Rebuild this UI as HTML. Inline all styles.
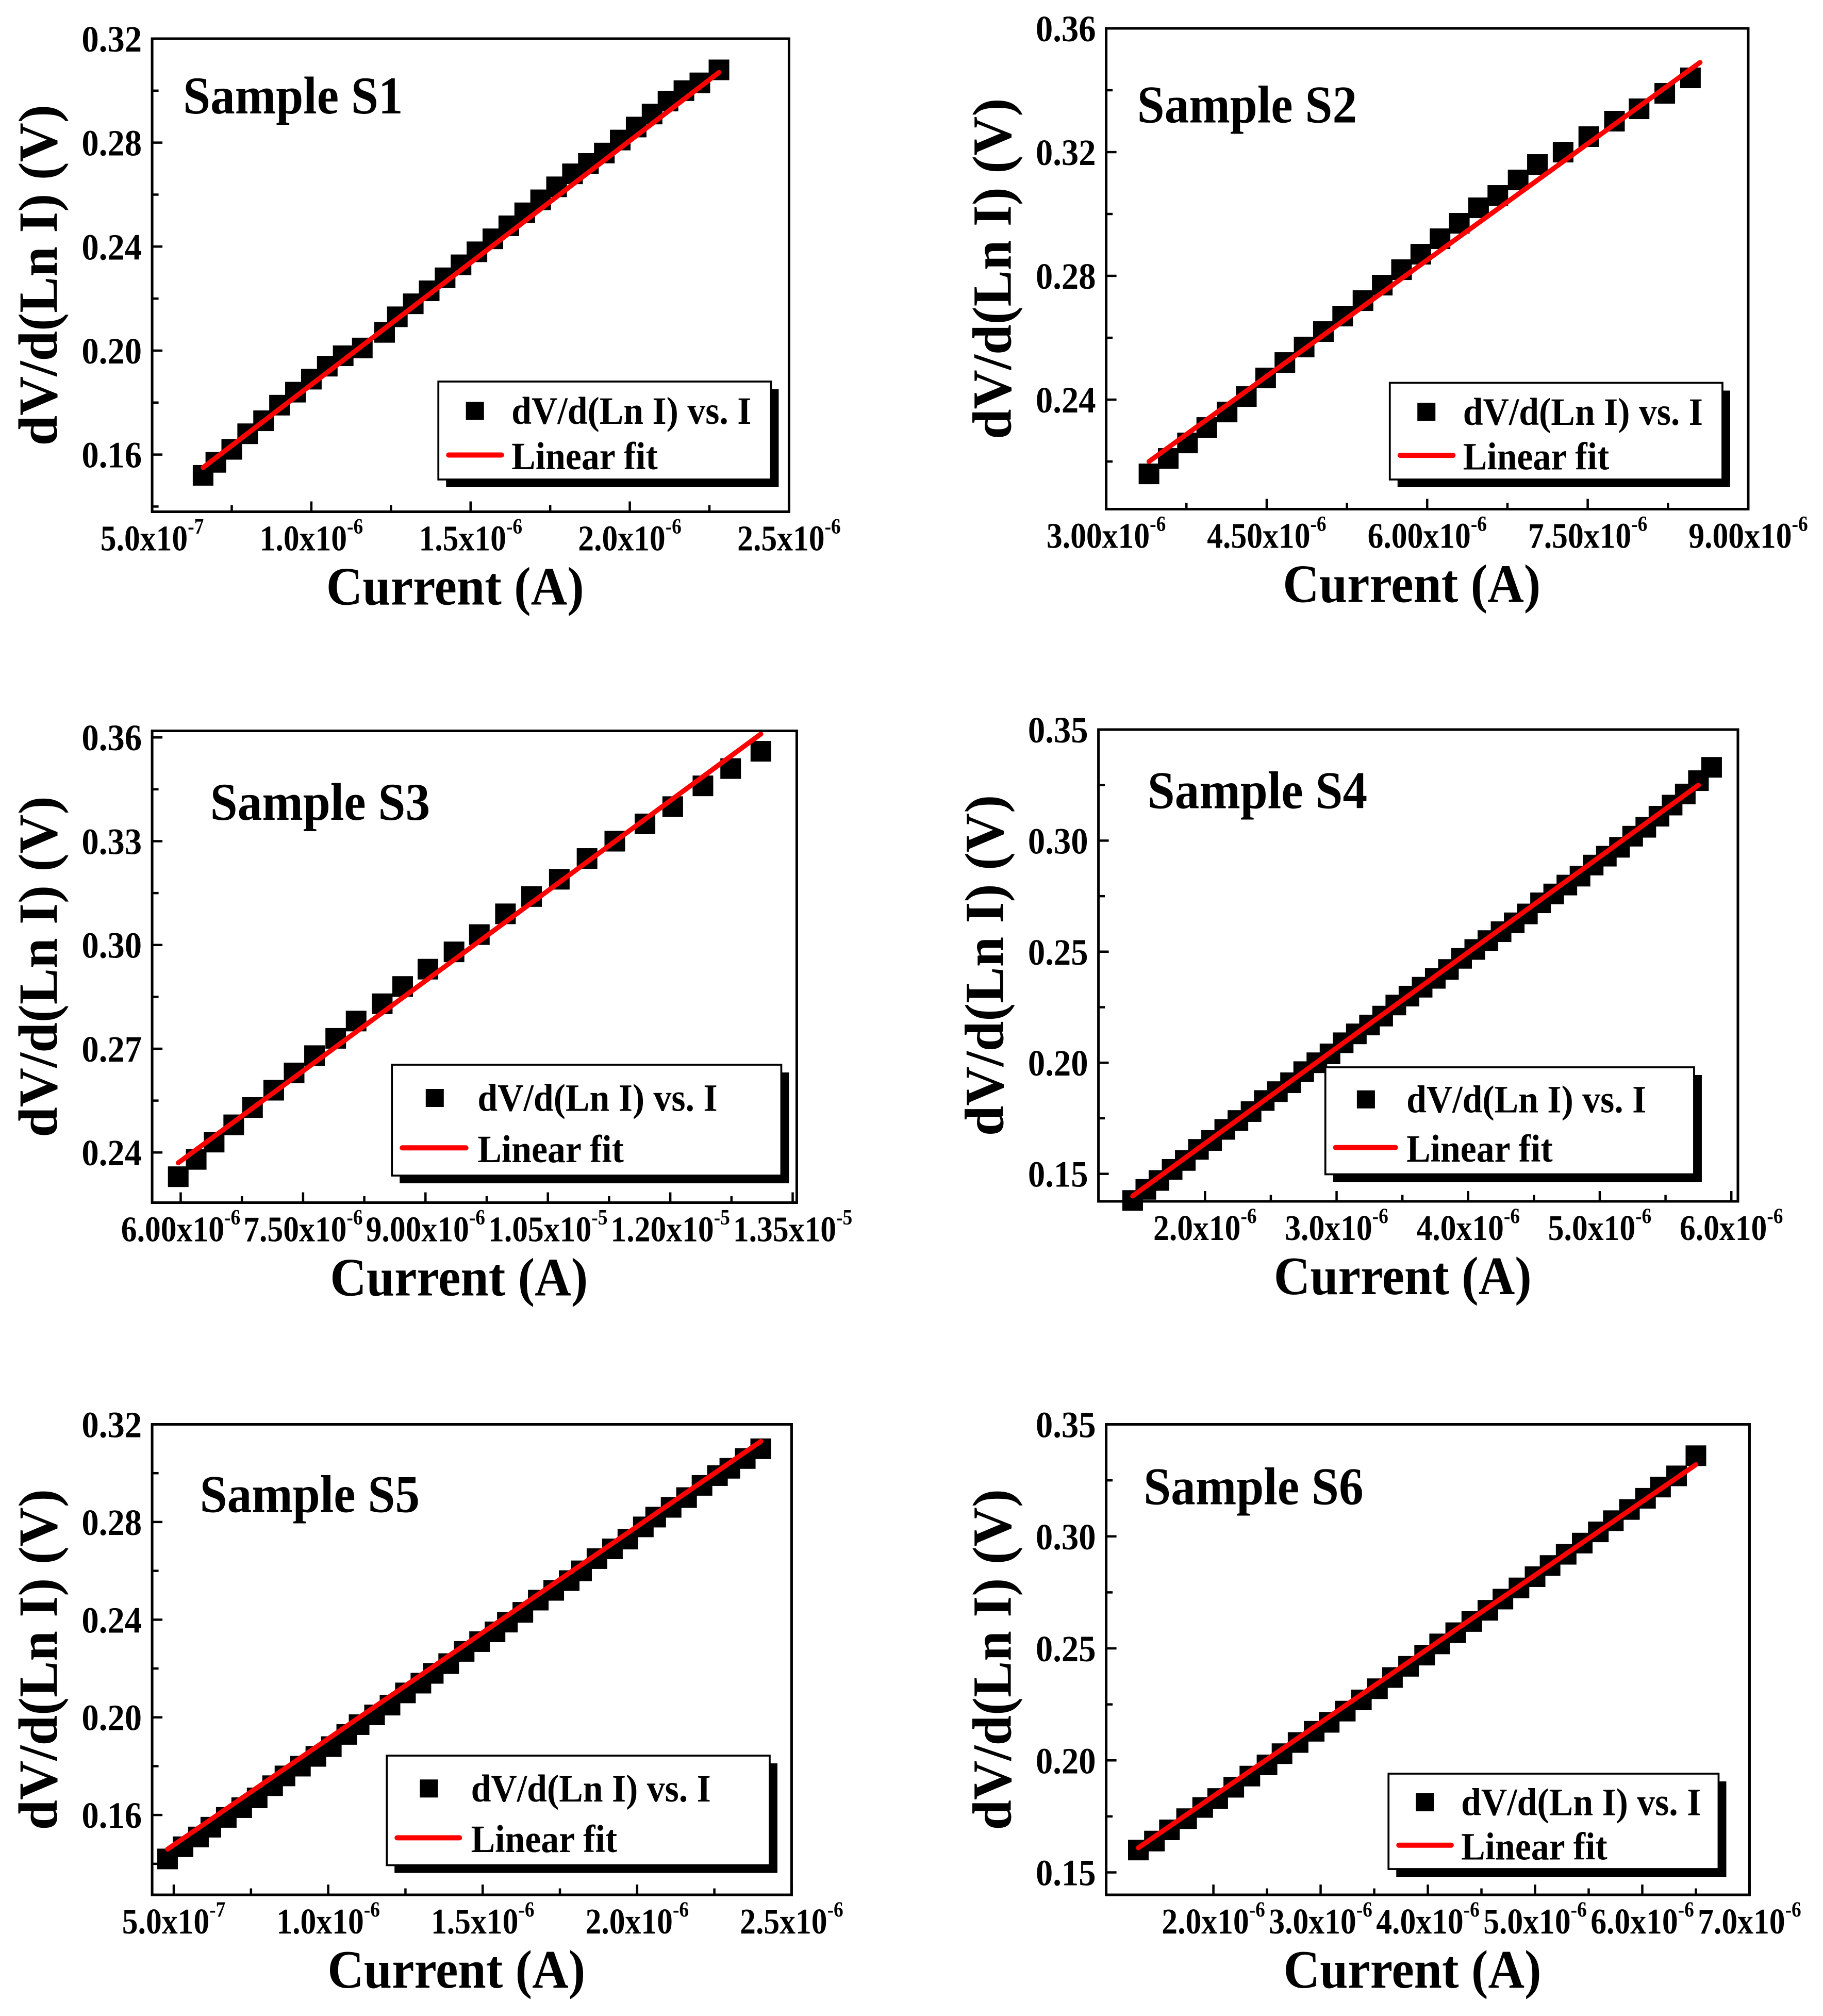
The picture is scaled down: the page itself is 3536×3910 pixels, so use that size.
<!DOCTYPE html>
<html><head><meta charset="utf-8">
<style>html,body{margin:0;padding:0;background:#fff}svg{display:block}</style>
</head><body>
<svg id="fig" width="3536" height="3910" viewBox="0 0 1414 1564" preserveAspectRatio="none" xmlns="http://www.w3.org/2000/svg" font-family="'Liberation Serif', serif" font-weight="bold"></svg>
<script>
// ---- data (x in units of 1e-6 A, y in V) ----
const s1X=[0.66,0.70,0.75,0.80,0.85,0.90,0.95,1.00,1.05,1.10,1.16,1.23,1.27,1.32,1.37,1.42,1.47,1.52,1.57,1.62,1.67,1.72,1.77,1.82,1.87,1.92,1.97,2.02,2.07,2.12,2.17,2.22,2.28];
const s1Y=[0.152,0.157,0.162,0.168,0.173,0.179,0.184,0.189,0.194,0.198,0.201,0.207,0.213,0.218,0.223,0.228,0.233,0.238,0.243,0.248,0.253,0.258,0.263,0.268,0.272,0.276,0.281,0.286,0.291,0.296,0.300,0.303,0.308];
const s1Fit=[[0.66,0.155],[2.28,0.307]];
const s2X=[3.40,3.58,3.76,3.94,4.13,4.31,4.49,4.67,4.85,5.03,5.21,5.40,5.58,5.76,5.94,6.12,6.30,6.48,6.66,6.85,7.03,7.27,7.51,7.75,7.98,8.22,8.46];
const s2Y=[0.216,0.221,0.226,0.231,0.236,0.241,0.247,0.252,0.257,0.262,0.267,0.272,0.277,0.282,0.287,0.292,0.297,0.302,0.306,0.311,0.316,0.320,0.325,0.330,0.334,0.339,0.344];
const s2Fit=[[3.40,0.220],[8.55,0.349]];
const s3X=[5.97,6.19,6.41,6.65,6.88,7.14,7.39,7.64,7.90,8.15,8.47,8.72,9.03,9.35,9.66,9.98,10.30,10.64,10.98,11.32,11.69,12.03,12.40,12.74,13.11];
const s3Y=[0.233,0.238,0.243,0.248,0.253,0.258,0.263,0.268,0.273,0.278,0.283,0.288,0.293,0.298,0.303,0.309,0.314,0.319,0.325,0.330,0.335,0.340,0.346,0.351,0.356];
const s3Fit=[[5.97,0.237],[13.11,0.361]];
const s4X=[1.45,1.55,1.65,1.75,1.85,1.95,2.05,2.15,2.25,2.35,2.45,2.55,2.65,2.75,2.85,2.95,3.05,3.15,3.25,3.35,3.45,3.55,3.65,3.75,3.85,3.95,4.05,4.15,4.25,4.35,4.45,4.55,4.65,4.75,4.85,4.95,5.05,5.15,5.25,5.35,5.45,5.55,5.65,5.75,5.85];
const s4Y=[0.138,0.143,0.147,0.152,0.156,0.161,0.165,0.170,0.174,0.178,0.183,0.187,0.191,0.196,0.200,0.204,0.209,0.213,0.217,0.221,0.226,0.230,0.234,0.238,0.242,0.247,0.251,0.255,0.259,0.263,0.267,0.272,0.276,0.280,0.284,0.289,0.293,0.297,0.302,0.306,0.311,0.316,0.321,0.327,0.333];
const s4Fit=[[1.45,0.140],[5.75,0.325]];
const s5X=[0.48,0.53,0.58,0.62,0.67,0.72,0.77,0.82,0.86,0.91,0.96,1.01,1.06,1.10,1.15,1.20,1.25,1.30,1.34,1.39,1.44,1.49,1.54,1.58,1.63,1.68,1.73,1.78,1.82,1.87,1.92,1.97,2.02,2.06,2.11,2.16,2.21,2.26,2.30,2.35,2.40];
const s5Y=[0.142,0.147,0.151,0.155,0.159,0.163,0.167,0.172,0.176,0.180,0.184,0.188,0.193,0.197,0.201,0.205,0.210,0.214,0.218,0.222,0.227,0.231,0.235,0.239,0.243,0.248,0.252,0.256,0.260,0.265,0.269,0.273,0.278,0.282,0.286,0.290,0.295,0.299,0.302,0.306,0.310];
const s5Fit=[[0.48,0.146],[2.40,0.313]];
const s6X=[1.30,1.45,1.59,1.75,1.90,2.04,2.19,2.34,2.50,2.64,2.79,2.94,3.08,3.23,3.38,3.53,3.67,3.82,3.97,4.11,4.26,4.41,4.56,4.70,4.85,5.00,5.14,5.29,5.44,5.59,5.73,5.88,6.03,6.17,6.32,6.50];
const s6Y=[0.160,0.164,0.169,0.174,0.179,0.183,0.188,0.193,0.198,0.203,0.208,0.213,0.217,0.222,0.227,0.232,0.237,0.242,0.247,0.252,0.257,0.262,0.267,0.272,0.277,0.282,0.287,0.292,0.297,0.302,0.307,0.312,0.317,0.322,0.327,0.336];
const s6Fit=[[1.30,0.161],[6.50,0.332]];
// tick values and labels
const s1XTicks=[0.5,1.0,1.5,2.0,2.5]; const s1XLabels=["5.0x10|-7","1.0x10|-6","1.5x10|-6","2.0x10|-6","2.5x10|-6"];
const s1YTicks=[0.16,0.20,0.24,0.28,0.32]; const s1YLabels=["0.16","0.20","0.24","0.28","0.32"];
const s2XTicks=[3.0,4.5,6.0,7.5,9.0]; const s2XLabels=["3.00x10|-6","4.50x10|-6","6.00x10|-6","7.50x10|-6","9.00x10|-6"];
const s2YTicks=[0.24,0.28,0.32,0.36]; const s2YLabels=["0.24","0.28","0.32","0.36"];
const s3XTicks=[6.0,7.5,9.0,10.5,12.0,13.5]; const s3XLabels=["6.00x10|-6","7.50x10|-6","9.00x10|-6","1.05x10|-5","1.20x10|-5","1.35x10|-5"];
const s3YTicks=[0.24,0.27,0.30,0.33,0.36]; const s3YLabels=["0.24","0.27","0.30","0.33","0.36"];
const s4XTicks=[2,3,4,5,6]; const s4XLabels=["2.0x10|-6","3.0x10|-6","4.0x10|-6","5.0x10|-6","6.0x10|-6"];
const s4YTicks=[0.15,0.20,0.25,0.30,0.35]; const s4YLabels=["0.15","0.20","0.25","0.30","0.35"];
const s5XTicks=[0.5,1.0,1.5,2.0,2.5]; const s5XLabels=["5.0x10|-7","1.0x10|-6","1.5x10|-6","2.0x10|-6","2.5x10|-6"];
const s5YTicks=[0.16,0.20,0.24,0.28,0.32]; const s5YLabels=["0.16","0.20","0.24","0.28","0.32"];
const s6XTicks=[2,3,4,5,6,7]; const s6XLabels=["2.0x10|-6","3.0x10|-6","4.0x10|-6","5.0x10|-6","6.0x10|-6","7.0x10|-6"];
const s6YTicks=[0.15,0.20,0.25,0.30,0.35]; const s6YLabels=["0.15","0.20","0.25","0.30","0.35"];

const NS="http://www.w3.org/2000/svg";
const svg=document.getElementById('fig');
function mk(tag,attrs,parent){const e=document.createElementNS(NS,tag);for(const k in attrs)e.setAttribute(k,attrs[k]);(parent||svg).appendChild(e);return e;}

function panel(p){
  const g=mk('g',{});
  
  
  const sx=v=>p.L+(v-p.x0)/(p.x1-p.x0)*(p.R-p.L);
  const sy=v=>p.B-(v-p.y0)/(p.y1-p.y0)*(p.B-p.T);
  const xs=p.xt, dx=xs[1]-xs[0];
  for(let i=0;i<xs.length;i++){
    for(const v of [xs[i], xs[i]+dx/2]){
      if(v<p.x0-1e-9||v>p.x1+1e-9) continue;
      const major=(v===xs[i]);
      const t=mk('line',{x1:sx(v),x2:sx(v),y1:p.B,y2:p.B-(major?8:5),stroke:'#000','stroke-width':1.8},g);
      
      
    }
    const parts=p.xl[i].split('|');
    const tx=mk('text',{'text-anchor':'middle','font-size':28,transform:`translate(${sx(xs[i])} ${p.B+30}) scale(0.88 1)`},g);
    
    
    tx.appendChild(document.createTextNode(parts[0]));
    const sup=mk('tspan',{'font-size':17,dy:-13},tx); sup.textContent=parts[1];
  }
  const ys=p.yt, dy=ys[1]-ys[0];
  for(let i=0;i<ys.length;i++){
    for(const v of [ys[i], ys[i]-dy/2]){
      if(v<p.y0-1e-9||v>p.y1+1e-9) continue;
      const major=(v===ys[i]);
      const t=mk('line',{x1:p.L,x2:p.L+(major?8:5),y1:sy(v),y2:sy(v),stroke:'#000','stroke-width':1.8},g);
      
      
    }
    const ty=mk('text',{'text-anchor':'end','font-size':29,transform:`translate(${p.L-8} ${sy(ys[i])+10}) scale(0.92 1)`},g);
    
    
    ty.textContent=p.yl[i];
  }
  for(let i=0;i<p.dx.length;i++){
    const r=mk('rect',{x:sx(p.dx[i])-8,y:sy(p.dy[i])-8,width:16,height:16,fill:'#000'},g);
    
    
  }
  const fl=mk('line',{x1:sx(p.fit[0][0]),y1:sy(p.fit[0][1]),x2:sx(p.fit[1][0]),y2:sy(p.fit[1][1]),stroke:'#f00','stroke-width':3.8,'stroke-linecap':'round'},g);
  
  
  const fr=mk('rect',{x:p.L,y:p.T,width:p.R-p.L,height:p.B-p.T,fill:'none',stroke:'#000','stroke-width':2},g);
  
  
  const sl=mk('text',{'font-size':41,transform:`translate(${p.sLx} ${p.sLy}) scale(0.93 1)`},g);
  
  
  sl.textContent='Sample '+p.id;
  const [lx,ly,lw,lh]=p.leg;
  const lg=mk('g',{},g);
  
  
  mk('rect',{x:lx+6,y:ly+6,width:lw,height:lh,fill:'#000'},lg);
  mk('rect',{x:lx,y:ly,width:lw,height:lh,fill:'#fff',stroke:'#000','stroke-width':1.5},lg);
  const cx=lx+lw*0.11;
  mk('rect',{x:cx-7,y:ly+lh*0.3-7,width:14,height:14,fill:'#000'},lg);
  const t1=mk('text',{'font-size':30,transform:`translate(${lx+lw*0.22} ${ly+lh*0.3+10}) scale(0.93 1)`},lg);
  
  
  t1.textContent='dV/d(Ln I) vs. I';
  mk('line',{x1:lx+8,x2:lx+lw*0.19,y1:ly+lh*0.75,y2:ly+lh*0.75,stroke:'#f00','stroke-width':4,'stroke-linecap':'round'},lg);
  const t2=mk('text',{'font-size':30,transform:`translate(${lx+lw*0.22} ${ly+lh*0.75+11}) scale(0.93 1)`},lg);
  
  
  t2.textContent='Linear fit';
  const xt=mk('text',{'text-anchor':'middle','font-size':42,transform:`translate(${(p.L+p.R)/2-12} ${p.B+72}) scale(0.93 1)`},g);
  
  
  xt.textContent='Current (A)';
  const ycx=p.L-74, ycy=(p.T+p.B)/2;
  const yt=mk('text',{'text-anchor':'middle','font-size':43,transform:`translate(${ycx} ${ycy}) rotate(-90) scale(0.98 1)`},g);
  
  
  yt.textContent='dV/d(Ln I) (V)';
}

panel({id:'S1',L:118,R:612,T:30,B:397,x0:0.5,x1:2.5,y0:0.138,y1:0.32,xt:s1XTicks,xl:s1XLabels,yt:s1YTicks,yl:s1YLabels,dx:s1X,dy:s1Y,fit:s1Fit,sLx:142,sLy:88,leg:[340,296,258,76]});
panel({id:'S2',L:858,R:1356,T:22,B:395,x0:3.0,x1:9.0,y0:0.2046,y1:0.36,xt:s2XTicks,xl:s2XLabels,yt:s2YTicks,yl:s2YLabels,dx:s2X,dy:s2Y,fit:s2Fit,sLx:882,sLy:95,leg:[1078,297,258,75]});
panel({id:'S3',L:118,R:618,T:567,B:933,x0:5.65,x1:13.55,y0:0.2255,y1:0.3619,xt:s3XTicks,xl:s3XLabels,yt:s3YTicks,yl:s3YLabels,dx:s3X,dy:s3Y,fit:s3Fit,sLx:163,sLy:636,leg:[304,826,302,86]});
panel({id:'S4',L:852,R:1348,T:566,B:932,x0:1.19,x1:6.05,y0:0.1376,y1:0.35,xt:s4XTicks,xl:s4XLabels,yt:s4YTicks,yl:s4YLabels,dx:s4X,dy:s4Y,fit:s4Fit,sLx:890,sLy:627,leg:[1028,828,286,83]});
panel({id:'S5',L:118,R:614,T:1105,B:1470,x0:0.43,x1:2.5,y0:0.1273,y1:0.32,xt:s5XTicks,xl:s5XLabels,yt:s5YTicks,yl:s5YLabels,dx:s5X,dy:s5Y,fit:s5Fit,sLx:155,sLy:1173,leg:[300,1362,297,85]});
panel({id:'S6',L:858,R:1357,T:1105,B:1470,x0:1.0,x1:7.0,y0:0.140,y1:0.35,xt:s6XTicks,xl:s6XLabels,yt:s6YTicks,yl:s6YLabels,dx:s6X,dy:s6Y,fit:s6Fit,sLx:887,sLy:1167,leg:[1077,1376,256,74]});
</script>
</body></html>
